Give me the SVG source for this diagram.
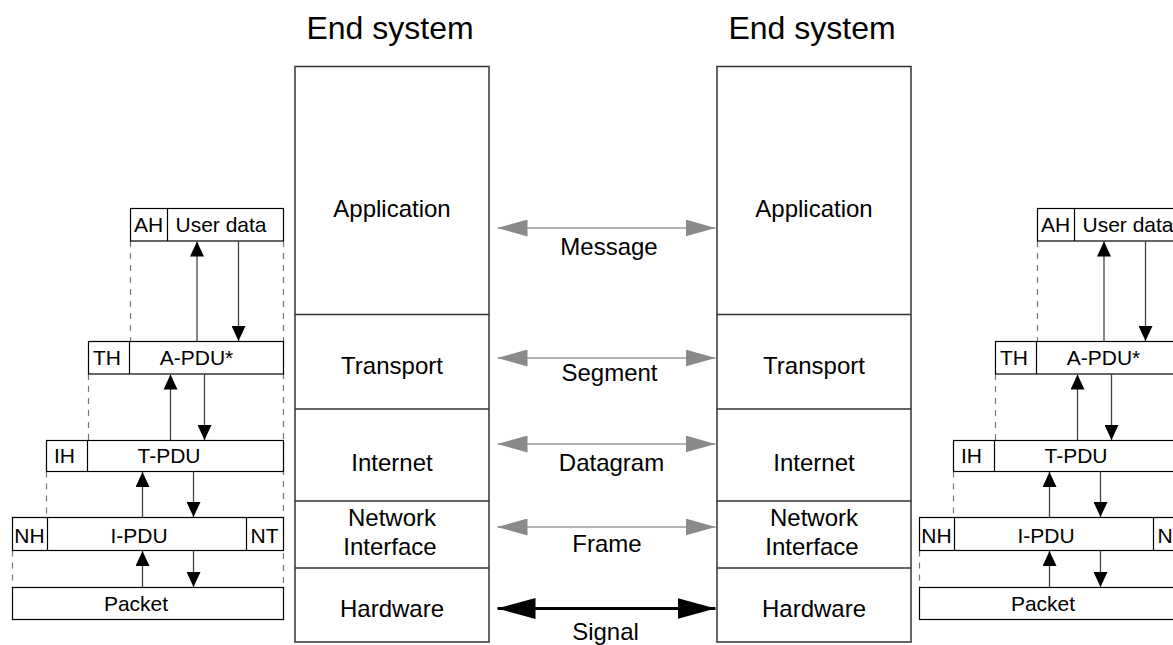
<svg xmlns="http://www.w3.org/2000/svg" width="1173" height="645" viewBox="0 0 1173 645">
<style>
text{font-family:"Liberation Sans",Arial,sans-serif;fill:#000;text-anchor:middle}
.title{font-size:32px}
.lay{font-size:24px}
.sm{font-size:21px}
.stack{fill:#fff;stroke:#333;stroke-width:1.5}
.sep{stroke:#333;stroke-width:1.5}
.box{fill:#fff;stroke:#000;stroke-width:1.2}
.div{stroke:#000;stroke-width:1.2}
.dash{stroke:#777;stroke-width:1.2;stroke-dasharray:6 6;fill:none}
.va{stroke:#444;stroke-width:1.3;marker-end:url(#ah)}
.ga{stroke:#999;stroke-width:1.6;marker-start:url(#gh);marker-end:url(#gh)}
.ba{stroke:#000;stroke-width:3;marker-start:url(#bh);marker-end:url(#bh)}
</style>
<defs>
<marker id="ah" viewBox="0 0 15 14" refX="15" refY="7" markerWidth="15" markerHeight="14" markerUnits="userSpaceOnUse" orient="auto"><path d="M0,0 L15,7 L0,14 z" fill="#000"/></marker>
<marker id="gh" viewBox="0 0 30 17" refX="30" refY="8.5" markerWidth="30" markerHeight="17" markerUnits="userSpaceOnUse" orient="auto-start-reverse"><path d="M0,0 L30,8.5 L0,17 z" fill="#8a8a8a"/></marker>
<marker id="bh" viewBox="0 0 38 21" refX="38" refY="10.5" markerWidth="38" markerHeight="21" markerUnits="userSpaceOnUse" orient="auto-start-reverse"><path d="M0,0 L38,10.5 L0,21 z" fill="#000"/></marker>
<g id="pdu">
  <g class="guides">
    <line class="dash" x1="130.5" y1="241" x2="130.5" y2="341.5"/>
    <line class="dash" x1="88.5" y1="374" x2="88.5" y2="440.5"/>
    <line class="dash" x1="46.5" y1="471.5" x2="46.5" y2="517.5"/>
    <line class="dash" x1="12.5" y1="550.5" x2="12.5" y2="587.5"/>
    <line class="dash" x1="283.5" y1="241" x2="283.5" y2="587.5"/>
  </g>
  <g class="pdu-ah">
    <rect class="box" x="130.5" y="208.5" width="153" height="32.5"/>
    <line class="div" x1="167.5" y1="208.5" x2="167.5" y2="241"/>
    <text class="sm" x="148.5" y="232">AH</text>
    <text class="sm" x="221" y="232">User data</text>
  </g>
  <g class="pdu-th">
    <rect class="box" x="88.5" y="341.5" width="195" height="32.5"/>
    <line class="div" x1="129.5" y1="341.5" x2="129.5" y2="374"/>
    <text class="sm" x="107" y="364.5">TH</text>
    <text class="sm" x="196.5" y="364.5">A-PDU*</text>
  </g>
  <g class="pdu-ih">
    <rect class="box" x="46.5" y="440.5" width="237" height="31"/>
    <line class="div" x1="87.5" y1="440.5" x2="87.5" y2="471.5"/>
    <text class="sm" x="64.5" y="463">IH</text>
    <text class="sm" x="169" y="463">T-PDU</text>
  </g>
  <g class="pdu-nh">
    <rect class="box" x="12.5" y="517.5" width="271" height="33"/>
    <line class="div" x1="47.5" y1="517.5" x2="47.5" y2="550.5"/>
    <line class="div" x1="246.5" y1="517.5" x2="246.5" y2="550.5"/>
    <text class="sm" x="29.5" y="543">NH</text>
    <text class="sm" x="139" y="543">I-PDU</text>
    <text class="sm" x="264.5" y="543">NT</text>
  </g>
  <g class="pdu-packet">
    <rect class="box" x="12.5" y="587.5" width="271" height="32"/>
    <text class="sm" x="136" y="611">Packet</text>
  </g>
  <g class="pdu-connectors">
    <line class="va" x1="197" y1="341.5" x2="197" y2="241.5"/>
    <line class="va" x1="238.5" y1="241" x2="238.5" y2="341"/>
    <line class="va" x1="170.5" y1="440.5" x2="170.5" y2="374.5"/>
    <line class="va" x1="204.5" y1="374" x2="204.5" y2="440"/>
    <line class="va" x1="142.5" y1="517.5" x2="142.5" y2="472"/>
    <line class="va" x1="193.5" y1="471.5" x2="193.5" y2="517"/>
    <line class="va" x1="142.5" y1="587.5" x2="142.5" y2="551"/>
    <line class="va" x1="193.5" y1="550.5" x2="193.5" y2="587"/>
  </g>
</g>
</defs>
<rect width="1173" height="645" fill="#fff"/>
<g id="pdu-left"><use href="#pdu"/></g>
<g id="pdu-right" transform="translate(907,0)"><use href="#pdu"/></g>
<g id="end-system-left">
  <text class="title" x="390" y="39">End system</text>
  <rect class="stack" x="295" y="66.5" width="194" height="575.5"/>
  <line class="sep" x1="295" y1="314.5" x2="489" y2="314.5"/>
  <line class="sep" x1="295" y1="409" x2="489" y2="409"/>
  <line class="sep" x1="295" y1="501" x2="489" y2="501"/>
  <line class="sep" x1="295" y1="568" x2="489" y2="568"/>
  <text class="lay" x="392" y="217">Application</text>
  <text class="lay" x="392" y="374">Transport</text>
  <text class="lay" x="392" y="471">Internet</text>
  <text class="lay" x="392" y="526">Network</text>
  <text class="lay" x="390" y="555">Interface</text>
  <text class="lay" x="392" y="617">Hardware</text>
</g>
<g id="end-system-right">
  <text class="title" x="812" y="39">End system</text>
  <rect class="stack" x="717" y="66.5" width="194" height="575.5"/>
  <line class="sep" x1="717" y1="314.5" x2="911" y2="314.5"/>
  <line class="sep" x1="717" y1="409" x2="911" y2="409"/>
  <line class="sep" x1="717" y1="501" x2="911" y2="501"/>
  <line class="sep" x1="717" y1="568" x2="911" y2="568"/>
  <text class="lay" x="814" y="217">Application</text>
  <text class="lay" x="814" y="374">Transport</text>
  <text class="lay" x="814" y="471">Internet</text>
  <text class="lay" x="814" y="526">Network</text>
  <text class="lay" x="812" y="555">Interface</text>
  <text class="lay" x="814" y="617">Hardware</text>
</g>
<g id="connectors">
  <line class="ga" x1="497.5" y1="228" x2="715.5" y2="228"/>
  <line class="ga" x1="497.5" y1="358" x2="715.5" y2="358"/>
  <line class="ga" x1="497.5" y1="444" x2="715.5" y2="444"/>
  <line class="ga" x1="497.5" y1="527" x2="715.5" y2="527"/>
  <line class="ba" x1="497.5" y1="608.5" x2="715.5" y2="608.5"/>
  <text class="lay" x="609" y="255">Message</text>
  <text class="lay" x="609.5" y="381">Segment</text>
  <text class="lay" x="611.5" y="471">Datagram</text>
  <text class="lay" x="607" y="552">Frame</text>
  <text class="lay" x="605.5" y="640">Signal</text>
</g>
</svg>
